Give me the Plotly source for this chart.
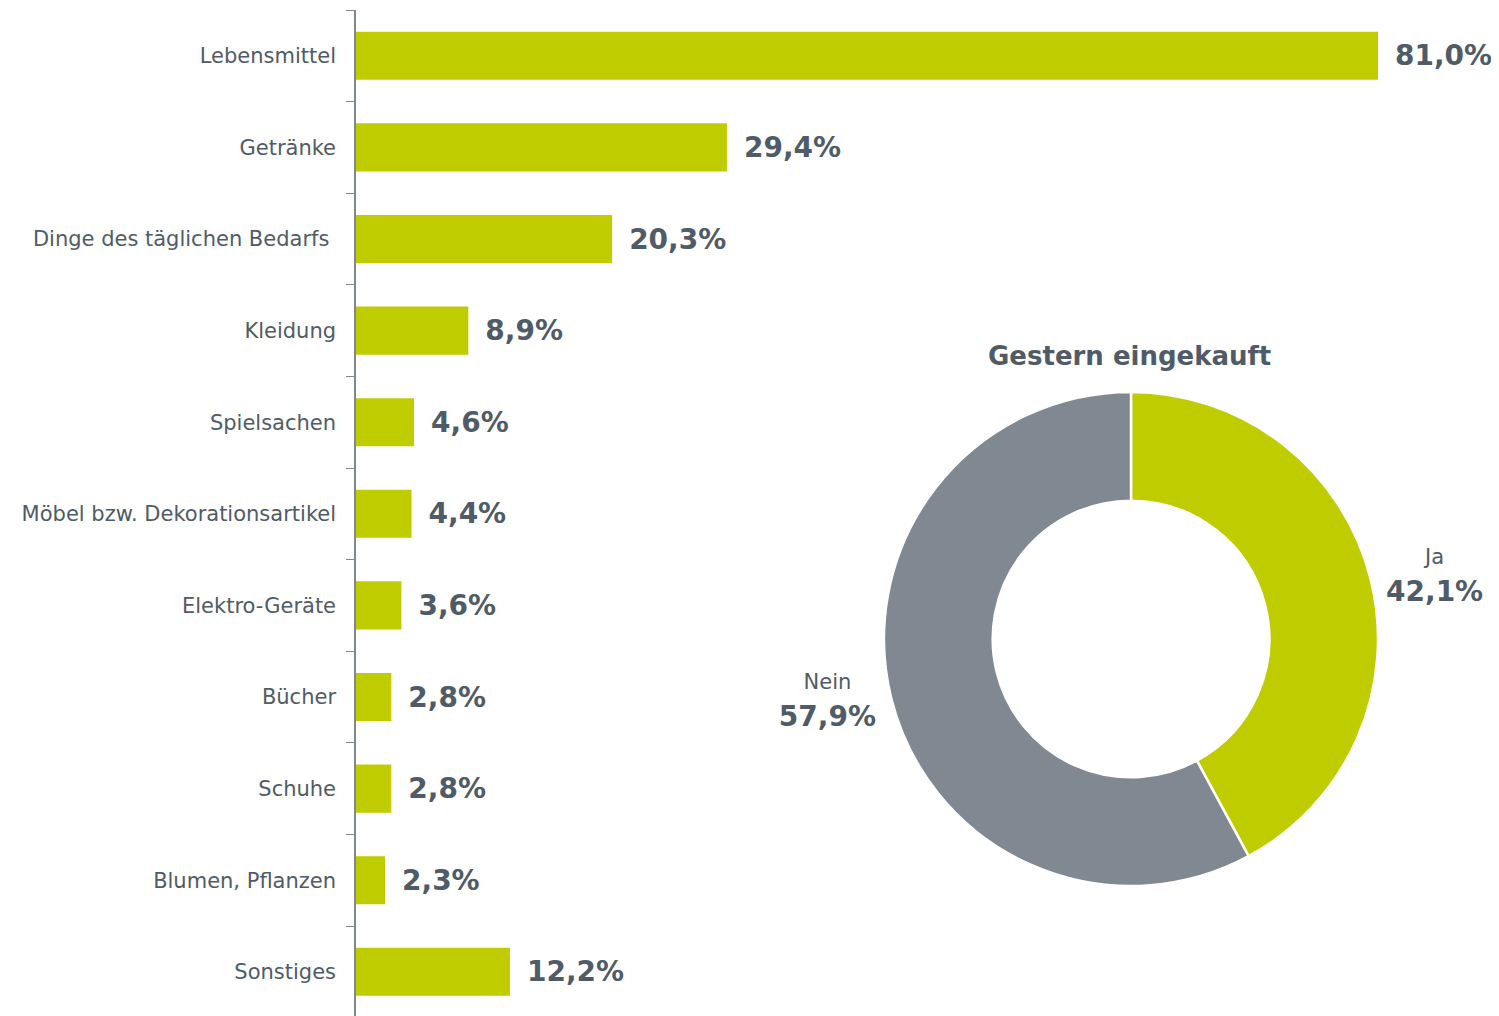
import plotly.graph_objects as go

categories = ["Lebensmittel", "Getränke", "Dinge des täglichen Bedarfs\u00a0", "Kleidung", "Spielsachen",
              "Möbel bzw. Dekorationsartikel", "Elektro-Geräte", "Bücher", "Schuhe",
              "Blumen, Pflanzen", "Sonstiges"]
values = [81.0, 29.4, 20.3, 8.9, 4.6, 4.4, 3.6, 2.8, 2.8, 2.3, 12.2]

pie_title = "Gestern eingekauft"
pie_labels = ["Ja", "Nein"]
pie_values = [42.1, 57.9]

GREEN = "#BFCD00"
GRAY = "#808891"
TEXT = "#4F5B66"
FONT = "DejaVu Sans"

# page body has an 8px margin; figure is sized to fit the window
OFF = 8
W, H = 1499 - OFF, 1016 - OFF


def px(X):
    return (X - OFF) / W


def py(Y):
    return 1 - (Y - OFF) / H


fig = go.Figure()
fig.add_trace(go.Bar(
    x=values, y=categories, orientation="h",
    marker=dict(color=GREEN, line=dict(width=0)),
    width=0.525,
    texttemplate="\u2002%{x:.1f}%",
    textposition="outside",
    textfont=dict(family=FONT, size=28, color=TEXT, weight="bold"),
    cliponaxis=False,
    constraintext="none",
    hoverinfo="skip",
))

cx, cy, R = 1131, 639, 247
fig.add_trace(go.Pie(
    labels=pie_labels, values=pie_values,
    sort=False, direction="clockwise", rotation=0,
    hole=0.56,
    marker=dict(colors=[GREEN, GRAY], line=dict(color="white", width=2.5)),
    texttemplate="<span style='font-size:21px;font-weight:normal'>%{label}</span><br><b>%{percent:.1%}</b>",
    textposition="outside",
    textfont=dict(family=FONT, size=28, color=TEXT),
    domain=dict(x=[px(cx - R), px(cx + R)], y=[py(cy + R), py(cy - R)]),
    showlegend=False,
    hoverinfo="skip",
))

n = len(categories)
row_h = (1016 - 10) / 91.6  # rows visible in the axis height
fig.update_layout(
    width=W, height=H,
    margin=dict(l=0, r=0, t=0, b=0),
    paper_bgcolor="white", plot_bgcolor="white",
    separators=",.",
    showlegend=False,
    font=dict(family=FONT, color=TEXT),
    xaxis=dict(domain=[px(356), 1.0], range=[0, (1499 - 356) / ((1379 - 357) / 81.0)],
               visible=False, fixedrange=True),
    yaxis=dict(domain=[0, py(10)], range=[row_h - 0.5, -0.5], type="category",
               showline=True, linecolor="#7F8790", linewidth=1.5,
               ticks="outside", tickson="boundaries", ticklen=8, tickcolor="#7F8790",
               tickfont=dict(family=FONT, size=21, color=TEXT),
               ticklabelstandoff=14, showgrid=False, automargin=False, zeroline=False),
    annotations=[dict(text="<b>" + pie_title + "</b>", x=px(1129), y=py(356),
                      xref="paper", yref="paper", xanchor="center", yanchor="middle",
                      showarrow=False, font=dict(family=FONT, size=26, color=TEXT))],
)

fig.write_html("out.html")
